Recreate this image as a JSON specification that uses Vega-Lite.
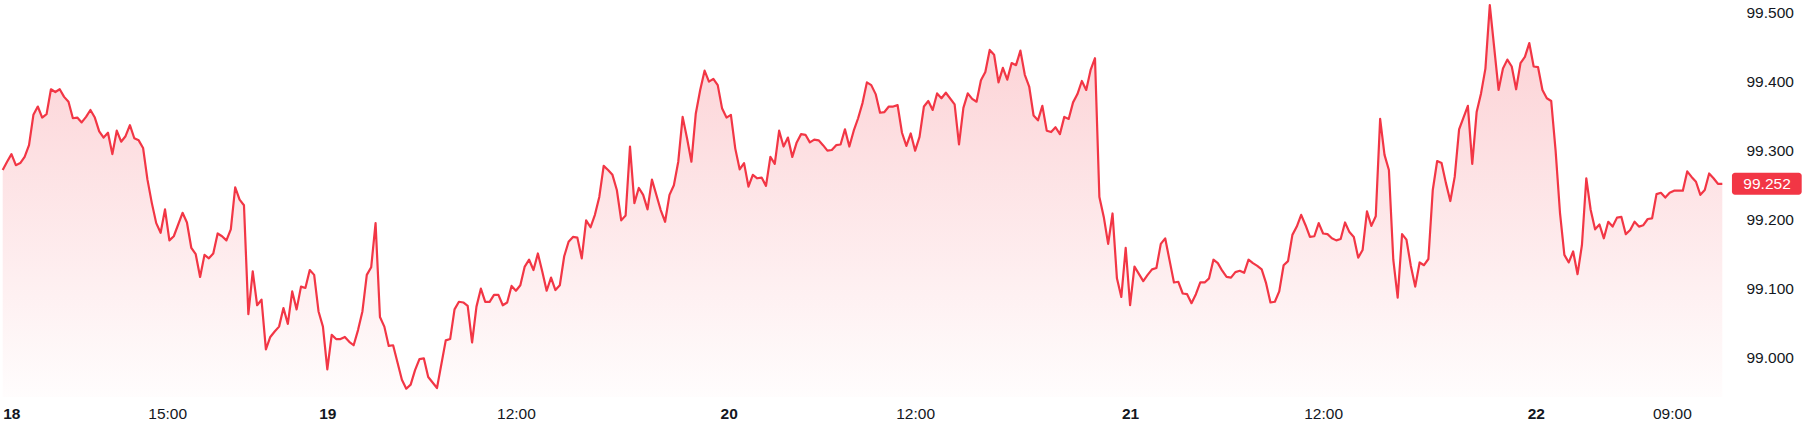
{
  "$schema": "https://vega.github.io/schema/vega-lite/v6.json",
  "width": 1719.6,
  "height": 395,
  "autosize": {"type": "none"},
  "padding": {"left": 2.7, "top": 2, "right": 90.7, "bottom": 38},
  "background": "#ffffff",
  "config": {"view": {"stroke": null}, "font": "Liberation Sans"},
  "data": {"values": [
    {"bar":0,"price":99.272},{"bar":1,"price":99.284},{"bar":2,"price":99.295},{"bar":3,"price":99.279},{"bar":4,"price":99.282},{"bar":5,"price":99.291},{"bar":6,"price":99.308},{"bar":7,"price":99.352},{"bar":8,"price":99.364},{"bar":9,"price":99.348},
    {"bar":10,"price":99.353},{"bar":11,"price":99.389},{"bar":12,"price":99.385},{"bar":13,"price":99.389},{"bar":14,"price":99.378},{"bar":15,"price":99.371},{"bar":16,"price":99.347},{"bar":17,"price":99.348},{"bar":18,"price":99.341},{"bar":19,"price":99.349},
    {"bar":20,"price":99.359},{"bar":21,"price":99.348},{"bar":22,"price":99.328},{"bar":23,"price":99.319},{"bar":24,"price":99.326},{"bar":25,"price":99.295},{"bar":26,"price":99.329},{"bar":27,"price":99.313},{"bar":28,"price":99.321},{"bar":29,"price":99.337},
    {"bar":30,"price":99.318},{"bar":31,"price":99.315},{"bar":32,"price":99.304},{"bar":33,"price":99.258},{"bar":34,"price":99.224},{"bar":35,"price":99.195},{"bar":36,"price":99.181},{"bar":37,"price":99.215},{"bar":38,"price":99.170},{"bar":39,"price":99.176},
    {"bar":41,"price":99.210},{"bar":42,"price":99.196},{"bar":43,"price":99.159},{"bar":44,"price":99.150},{"bar":45,"price":99.117},{"bar":46,"price":99.149},{"bar":47,"price":99.144},{"bar":48,"price":99.151},{"bar":49,"price":99.180},
    {"bar":50,"price":99.176},{"bar":51,"price":99.170},{"bar":52,"price":99.186},{"bar":53,"price":99.247},{"bar":54,"price":99.229},{"bar":55,"price":99.221},{"bar":56,"price":99.063},{"bar":57,"price":99.125},{"bar":58,"price":99.076},{"bar":59,"price":99.084},
    {"bar":60,"price":99.012},{"bar":61,"price":99.030},{"bar":62,"price":99.038},{"bar":63,"price":99.045},{"bar":64,"price":99.072},{"bar":65,"price":99.049},{"bar":66,"price":99.096},{"bar":67,"price":99.070},{"bar":68,"price":99.103},{"bar":69,"price":99.101},
    {"bar":70,"price":99.127},{"bar":71,"price":99.120},{"bar":72,"price":99.067},{"bar":73,"price":99.045},{"bar":74,"price":98.983},{"bar":75,"price":99.033},{"bar":76,"price":99.027},{"bar":77,"price":99.027},{"bar":78,"price":99.030},{"bar":79,"price":99.023},
    {"bar":80,"price":99.018},{"bar":81,"price":99.040},{"bar":82,"price":99.067},{"bar":83,"price":99.120},{"bar":84,"price":99.131},{"bar":85,"price":99.195},{"bar":86,"price":99.059},{"bar":87,"price":99.045},{"bar":88,"price":99.017},{"bar":89,"price":99.018},
    {"bar":91,"price":98.968},{"bar":92,"price":98.955},{"bar":93,"price":98.961},{"bar":94,"price":98.982},{"bar":95,"price":98.998},{"bar":96,"price":98.999},{"bar":97,"price":98.972},{"bar":99,"price":98.956},
    {"bar":101,"price":99.025},{"bar":102,"price":99.027},{"bar":103,"price":99.070},{"bar":104,"price":99.081},{"bar":105,"price":99.080},{"bar":106,"price":99.075},{"bar":107,"price":99.022},{"bar":108,"price":99.074},{"bar":109,"price":99.100},
    {"bar":110,"price":99.081},{"bar":111,"price":99.081},{"bar":112,"price":99.091},{"bar":113,"price":99.091},{"bar":114,"price":99.076},{"bar":115,"price":99.080},{"bar":116,"price":99.104},{"bar":117,"price":99.097},{"bar":118,"price":99.105},{"bar":119,"price":99.132},
    {"bar":120,"price":99.142},{"bar":121,"price":99.127},{"bar":122,"price":99.151},{"bar":123,"price":99.125},{"bar":124,"price":99.097},{"bar":125,"price":99.116},{"bar":126,"price":99.098},{"bar":127,"price":99.105},{"bar":128,"price":99.147},{"bar":129,"price":99.168},
    {"bar":130,"price":99.175},{"bar":131,"price":99.174},{"bar":132,"price":99.144},{"bar":133,"price":99.199},{"bar":134,"price":99.189},{"bar":135,"price":99.207},{"bar":136,"price":99.233},{"bar":137,"price":99.278},{"bar":138,"price":99.272},{"bar":139,"price":99.265},
    {"bar":140,"price":99.243},{"bar":141,"price":99.199},{"bar":142,"price":99.206},{"bar":143,"price":99.306},{"bar":144,"price":99.224},{"bar":145,"price":99.246},{"bar":146,"price":99.236},{"bar":147,"price":99.215},{"bar":148,"price":99.258},
    {"bar":150,"price":99.214},{"bar":151,"price":99.197},{"bar":152,"price":99.236},{"bar":153,"price":99.250},{"bar":154,"price":99.284},{"bar":155,"price":99.349},{"bar":156,"price":99.318},{"bar":157,"price":99.284},{"bar":158,"price":99.354},{"bar":159,"price":99.388},
    {"bar":160,"price":99.416},{"bar":161,"price":99.400},{"bar":162,"price":99.404},{"bar":163,"price":99.395},{"bar":164,"price":99.361},{"bar":165,"price":99.348},{"bar":166,"price":99.352},{"bar":167,"price":99.303},{"bar":168,"price":99.273},{"bar":169,"price":99.282},
    {"bar":170,"price":99.248},{"bar":171,"price":99.265},{"bar":172,"price":99.260},{"bar":173,"price":99.261},{"bar":174,"price":99.249},{"bar":175,"price":99.291},{"bar":176,"price":99.281},{"bar":177,"price":99.329},{"bar":178,"price":99.306},{"bar":179,"price":99.319},
    {"bar":180,"price":99.291},{"bar":181,"price":99.312},{"bar":182,"price":99.324},{"bar":183,"price":99.323},{"bar":184,"price":99.312},{"bar":185,"price":99.316},{"bar":186,"price":99.315},{"bar":187,"price":99.308},{"bar":188,"price":99.300},{"bar":189,"price":99.301},
    {"bar":190,"price":99.308},{"bar":191,"price":99.309},{"bar":192,"price":99.331},{"bar":193,"price":99.306},{"bar":194,"price":99.329},{"bar":195,"price":99.347},{"bar":196,"price":99.369},{"bar":197,"price":99.399},{"bar":198,"price":99.395},{"bar":199,"price":99.382},
    {"bar":200,"price":99.355},{"bar":201,"price":99.356},{"bar":202,"price":99.364},{"bar":203,"price":99.364},{"bar":204,"price":99.366},{"bar":205,"price":99.326},{"bar":206,"price":99.307},{"bar":207,"price":99.325},{"bar":208,"price":99.300},{"bar":209,"price":99.320},
    {"bar":210,"price":99.364},{"bar":211,"price":99.372},{"bar":212,"price":99.359},{"bar":213,"price":99.383},{"bar":214,"price":99.376},{"bar":215,"price":99.384},{"bar":217,"price":99.367},{"bar":218,"price":99.309},{"bar":219,"price":99.362},
    {"bar":220,"price":99.383},{"bar":221,"price":99.375},{"bar":222,"price":99.371},{"bar":223,"price":99.402},{"bar":224,"price":99.414},{"bar":225,"price":99.446},{"bar":226,"price":99.439},{"bar":227,"price":99.399},{"bar":228,"price":99.420},{"bar":229,"price":99.403},
    {"bar":230,"price":99.427},{"bar":231,"price":99.424},{"bar":232,"price":99.445},{"bar":233,"price":99.410},{"bar":234,"price":99.393},{"bar":235,"price":99.351},{"bar":236,"price":99.344},{"bar":237,"price":99.365},{"bar":238,"price":99.329},{"bar":239,"price":99.327},
    {"bar":240,"price":99.334},{"bar":241,"price":99.324},{"bar":242,"price":99.349},{"bar":243,"price":99.346},{"bar":244,"price":99.370},{"bar":245,"price":99.382},{"bar":246,"price":99.401},{"bar":247,"price":99.388},{"bar":248,"price":99.417},{"bar":249,"price":99.434},
    {"bar":250,"price":99.233},{"bar":251,"price":99.204},{"bar":252,"price":99.165},{"bar":253,"price":99.209},{"bar":254,"price":99.115},{"bar":255,"price":99.088},{"bar":256,"price":99.159},{"bar":257,"price":99.076},{"bar":258,"price":99.132},
    {"bar":260,"price":99.111},{"bar":261,"price":99.120},{"bar":262,"price":99.128},{"bar":263,"price":99.130},{"bar":264,"price":99.165},{"bar":265,"price":99.173},{"bar":266,"price":99.141},{"bar":267,"price":99.109},{"bar":268,"price":99.110},{"bar":269,"price":99.093},
    {"bar":270,"price":99.092},{"bar":271,"price":99.079},{"bar":272,"price":99.092},{"bar":273,"price":99.109},{"bar":274,"price":99.109},{"bar":275,"price":99.115},{"bar":276,"price":99.142},{"bar":277,"price":99.137},{"bar":278,"price":99.126},{"bar":279,"price":99.117},
    {"bar":280,"price":99.116},{"bar":281,"price":99.124},{"bar":282,"price":99.126},{"bar":283,"price":99.123},{"bar":284,"price":99.142},{"bar":285,"price":99.137},{"bar":286,"price":99.133},{"bar":287,"price":99.128},{"bar":288,"price":99.108},{"bar":289,"price":99.080},
    {"bar":290,"price":99.081},{"bar":291,"price":99.096},{"bar":292,"price":99.134},{"bar":293,"price":99.140},{"bar":294,"price":99.178},{"bar":295,"price":99.190},{"bar":296,"price":99.207},{"bar":297,"price":99.192},{"bar":298,"price":99.175},{"bar":299,"price":99.176},
    {"bar":300,"price":99.195},{"bar":301,"price":99.180},{"bar":302,"price":99.179},{"bar":303,"price":99.173},{"bar":304,"price":99.170},{"bar":305,"price":99.172},{"bar":306,"price":99.196},{"bar":307,"price":99.182},{"bar":308,"price":99.175},{"bar":309,"price":99.145},
    {"bar":310,"price":99.156},{"bar":311,"price":99.212},{"bar":312,"price":99.191},{"bar":313,"price":99.205},{"bar":314,"price":99.346},{"bar":315,"price":99.294},{"bar":316,"price":99.272},{"bar":317,"price":99.142},{"bar":318,"price":99.087},{"bar":319,"price":99.179},
    {"bar":320,"price":99.171},{"bar":321,"price":99.133},{"bar":322,"price":99.103},{"bar":323,"price":99.138},{"bar":324,"price":99.134},{"bar":325,"price":99.143},{"bar":326,"price":99.243},{"bar":327,"price":99.285},{"bar":328,"price":99.282},{"bar":329,"price":99.253},
    {"bar":330,"price":99.227},{"bar":331,"price":99.262},{"bar":332,"price":99.331},{"bar":333,"price":99.348},{"bar":334,"price":99.365},{"bar":335,"price":99.281},{"bar":336,"price":99.356},{"bar":337,"price":99.383},{"bar":338,"price":99.419},{"bar":339,"price":99.511},
    {"bar":341,"price":99.388},{"bar":342,"price":99.419},{"bar":343,"price":99.432},{"bar":344,"price":99.422},{"bar":345,"price":99.389},{"bar":346,"price":99.427},{"bar":347,"price":99.436},{"bar":348,"price":99.456},{"bar":349,"price":99.422},
    {"bar":350,"price":99.421},{"bar":351,"price":99.388},{"bar":352,"price":99.376},{"bar":353,"price":99.372},{"bar":354,"price":99.300},{"bar":355,"price":99.210},{"bar":356,"price":99.149},{"bar":357,"price":99.138},{"bar":358,"price":99.154},{"bar":359,"price":99.121},
    {"bar":360,"price":99.163},{"bar":361,"price":99.260},{"bar":362,"price":99.214},{"bar":363,"price":99.186},{"bar":364,"price":99.193},{"bar":365,"price":99.173},{"bar":366,"price":99.197},{"bar":367,"price":99.190},{"bar":368,"price":99.203},{"bar":369,"price":99.204},
    {"bar":370,"price":99.179},{"bar":371,"price":99.185},{"bar":372,"price":99.197},{"bar":373,"price":99.190},{"bar":374,"price":99.192},{"bar":375,"price":99.201},{"bar":376,"price":99.202},{"bar":377,"price":99.237},{"bar":378,"price":99.239},{"bar":379,"price":99.232},
    {"bar":380,"price":99.239},{"bar":381,"price":99.242},{"bar":382,"price":99.242},{"bar":383,"price":99.242},{"bar":384,"price":99.270},{"bar":385,"price":99.262},{"bar":386,"price":99.255},{"bar":387,"price":99.236},{"bar":388,"price":99.243},{"bar":389,"price":99.267},
    {"bar":390,"price":99.260},{"bar":391,"price":99.252},{"bar":392,"price":99.252}
  ]},
  "encoding": {
    "x": {
      "field": "bar", "type": "quantitative",
      "scale": {"domain": [0, 392], "nice": false, "zero": false},
      "axis": {
        "title": null, "grid": false, "ticks": false, "domain": false,
        "values": [0, 37.5, 74, 117, 165.5, 208, 257, 301, 349.5, 380.5],
        "labelExpr": "datum.value == 0 ? '18' : datum.value == 37.5 ? '15:00' : datum.value == 74 ? '19' : datum.value == 117 ? '12:00' : datum.value == 165.5 ? '20' : datum.value == 208 ? '12:00' : datum.value == 257 ? '21' : datum.value == 301 ? '12:00' : datum.value == 349.5 ? '22' : '09:00'",
        "labelFontWeight": {"condition": {"test": "datum.value == 0 || datum.value == 74 || datum.value == 165.5 || datum.value == 257 || datum.value == 349.5", "value": "bold"}, "value": "normal"},
        "labelFlush": true, "labelOverlap": false, "labelBound": false,
        "labelPadding": 16, "labelBaseline": "middle",
        "labelFont": "Liberation Sans", "labelFontSize": 15.5, "labelColor": "#131722"
      }
    },
    "y": {
      "field": "price", "type": "quantitative",
      "scale": {"domain": [98.943, 99.5155], "nice": false, "zero": false},
      "axis": {
        "orient": "right", "title": null, "grid": false, "ticks": false, "domain": false,
        "values": [99.0, 99.1, 99.2, 99.3, 99.4, 99.5], "format": ".3f",
        "labelPadding": 23.7, "labelFont": "Liberation Sans", "labelFontSize": 15.5, "labelColor": "#131722"
      }
    }
  },
  "layer": [
    {
      "mark": {
        "type": "area",
        "fill": {"gradient": "linear", "x1": 0, "y1": 0, "x2": 0, "y2": 1,
          "stops": [{"offset": 0, "color": "rgba(242,54,69,0.24)"}, {"offset": 1, "color": "rgba(242,54,69,0.01)"}]}
      },
      "encoding": {
        "y2": {"datum": 98.943}
      }
    },
    {
      "mark": {"type": "line", "stroke": "#F23645", "strokeWidth": 2.2, "strokeJoin": "round"}
    },
    {
      "transform": [{"filter": "datum.bar == 392"}],
      "mark": {"type": "rect", "fill": "#F23645", "cornerRadius": 3, "yOffset": 11, "y2Offset": -11},
      "encoding": {
        "x": {"datum": 394.2, "type": "quantitative"},
        "x2": {"datum": 410.1},
        "y": {"field": "price", "type": "quantitative"},
        "y2": {"field": "price"}
      }
    },
    {
      "transform": [{"filter": "datum.bar == 392"}],
      "mark": {"type": "text", "color": "#ffffff", "font": "Liberation Sans", "fontSize": 15.5, "align": "center", "baseline": "middle"},
      "encoding": {
        "x": {"datum": 402.2, "type": "quantitative"},
        "y": {"field": "price", "type": "quantitative"},
        "text": {"field": "price", "type": "quantitative", "format": ".3f"}
      }
    }
  ]
}
